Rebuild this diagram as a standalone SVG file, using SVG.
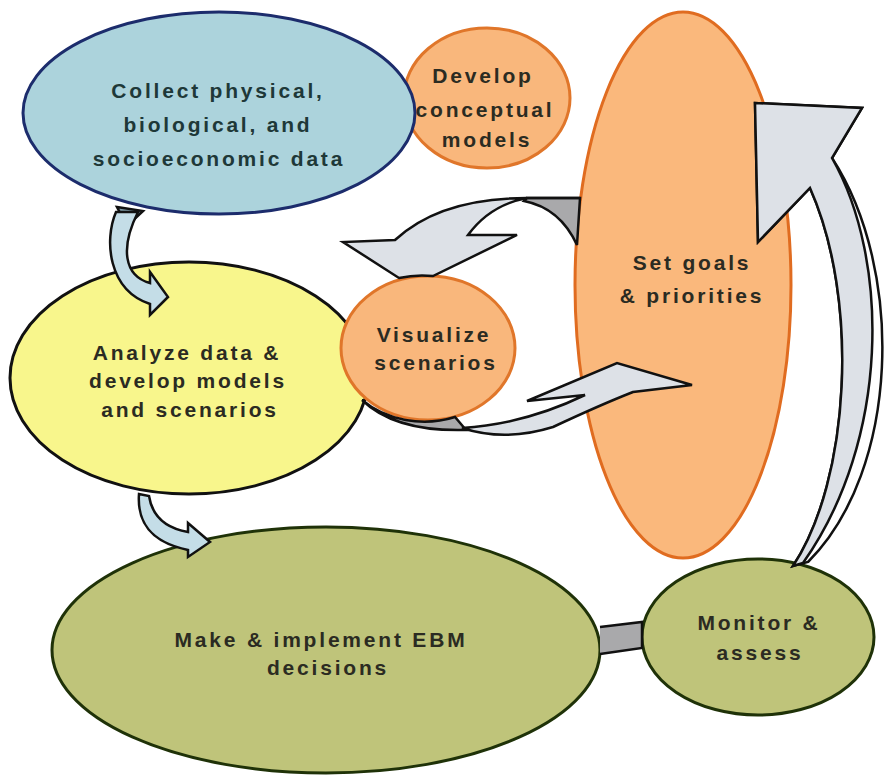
<svg xmlns="http://www.w3.org/2000/svg" width="893" height="778" viewBox="0 0 893 778">
<style>
text{font-family:"Liberation Sans",Arial,sans-serif;font-weight:bold;font-size:21px;letter-spacing:2.8px;text-anchor:middle;fill:#2b2b22}
.blue ellipse{fill:#acd3dc;stroke:#1c2c6c;stroke-width:3}
.blue text{fill:#1e3838}
.orange ellipse{fill:#f9b77c;stroke:#e0762a;stroke-width:3}
.yellow ellipse{fill:#f8f68c;stroke:#111;stroke-width:3}
.green ellipse{fill:#bfc47a;stroke:#1f3208;stroke-width:3}
.arr{stroke:#111;stroke-width:2.5;stroke-linejoin:miter}
.light{fill:#dde1e7}
.dark{fill:#a9a9ab}
.white{fill:#ffffff}
.lblue{fill:#c4dde7}
.dblue{fill:#7e9aa6}
</style>
<rect width="893" height="778" fill="#ffffff"/>

<g id="node-develop" class="orange">
<ellipse cx="487" cy="98" rx="83" ry="70"/>
<text x="483" y="83">Develop</text>
<text x="485" y="117">conceptual</text>
<text x="487" y="147">models</text>
</g>
<g id="node-collect" class="blue">
<ellipse cx="219" cy="113" rx="196" ry="101"/>
<text x="218" y="98">Collect physical,</text>
<text x="218" y="132">biological, and</text>
<text x="219" y="166">socioeconomic data</text>
</g>
<g id="node-goals" class="orange">
<ellipse cx="683" cy="285" rx="108" ry="273" style="fill:#fab87c;stroke:#e06c20"/>
<text x="692" y="270">Set goals</text>
<text x="692" y="303">&amp; priorities</text>
</g>
<g id="node-analyze" class="yellow">
<ellipse cx="189" cy="378" rx="179" ry="116"/>
<text x="187" y="360">Analyze data &amp;</text>
<text x="188" y="388">develop models</text>
<text x="190" y="417">and scenarios</text>
</g>
<g id="node-visualize" class="orange">
<ellipse cx="428" cy="348" rx="87" ry="72"/>
<text x="434" y="342">Visualize</text>
<text x="436" y="370">scenarios</text>
</g>
<g id="node-make" class="green">
<ellipse cx="326" cy="650" rx="274" ry="123"/>
<text x="321" y="647">Make &amp; implement EBM</text>
<text x="328" y="675">decisions</text>
</g>
<g id="node-monitor" class="green">
<ellipse cx="758" cy="637" rx="116" ry="78"/>
<text x="759" y="630">Monitor &amp;</text>
<text x="760" y="660">assess</text>
</g>

<g id="connectors">
<!-- collect -> analyze -->
<path class="arr dblue" d="M117,207 L143,211 L127,226 Z"/>
<path class="arr lblue" d="M116,212 C104,240 108,290 150,304 L150,315 L168,297 L150,272 L150,283 C124,276 120,248 138,212 Z"/>
<!-- analyze -> make -->
<path class="arr lblue" d="M139,494 C137,522 150,542 188,550 L188,557 L210,542 L188,523 L188,532 C165,528 152,515 149,496 Z"/>
<!-- goals -> visualize (top) -->
<path class="arr dark" d="M527,198 L580,198 L577,245 Q560,208 524,201 Z"/>
<path class="arr light" d="M580,198 L527,198 Q440,198 395,240 L343,242 L399,278 A87 72 0 0 1 433,276 L517,235 L468,235 Q490,205 527,198"/>
<!-- visualize -> goals (bottom) -->
<path class="arr dark" d="M362,400 Q395,432 466,430 L455,417 A87 72 0 0 1 362,400 Z"/>
<path class="arr light" d="M692,385 L617,363 L527,401 L585,395 Q525,424 462,428 Q505,442 553,427 Q600,405 633,392 Z"/>
<!-- make -> monitor -->
<path class="arr dark" d="M600,627 L642,622 L642,648 L600,654"/>
<!-- monitor -> goals (big arc) -->
<path class="arr white" d="M793,566 C850,480 860,300 810,188 L758,242 L755,103 L862,108 L832,158 C905,270 900,470 808,562 Z"/>
<path class="arr light" d="M793,566 C850,480 860,300 810,188 L758,242 L755,103 L862,108 L832,158 C890,260 890,440 803,563 Z"/>
</g>
</svg>
